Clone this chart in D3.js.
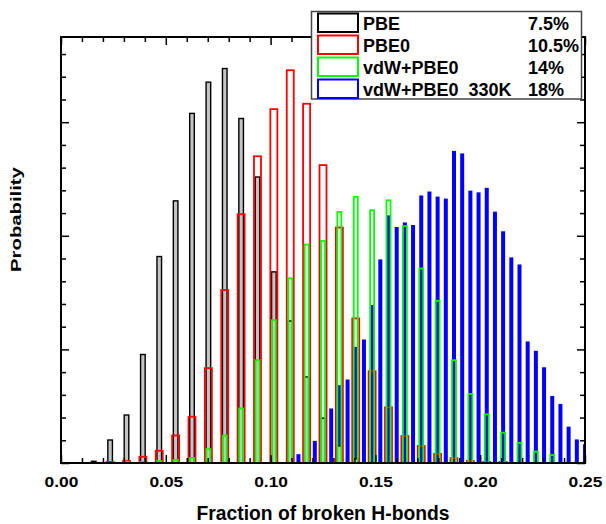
<!DOCTYPE html>
<html><head><meta charset="utf-8">
<script src="https://cdn.jsdelivr.net/npm/d3@7"></script>
<style>
html,body{margin:0;padding:0;background:#fff;}
text{font-family:"Liberation Sans",Arial,Helvetica,sans-serif;font-weight:bold;fill:#000;}
</style></head>
<body>
<svg id="chart" width="606" height="524"></svg>
<script>
// Histograms: bins are k/128 (PBE, PBE0, vdW+PBE0) and k/256 (330K run)
const pbeStart = 2;      // first bin index (k/128)
const pbeValues = [0.0006,0.0081,0.0169,0.0382,0.0727,0.0923,0.1231,0.1341,0.1389,0.1213,0.1007,0.0673,0.0500,0.0303,0.0158,0.0060,0.0015];
const pbe0Start = 3;
const pbe0Values = [0.0004,0.0007,0.0022,0.0043,0.0097,0.0163,0.0334,0.0609,0.0876,0.1080,0.1246,0.1383,0.1265,0.1049,0.0829,0.0509,0.0323,0.0196,0.0095,0.0060,0.0032,0.0017,0.0007,0.0004,0.0004];
const vdwStart = 4;
const vdwValues = [0.0004,0.0004,0.0007,0.0011,0.0018,0.0049,0.0097,0.0192,0.0362,0.0503,0.0650,0.0769,0.0782,0.0884,0.0937,0.0890,0.0925,0.0834,0.0685,0.0571,0.0362,0.0243,0.0171,0.0107,0.0071,0.0040,0.0028];
const hotStart = 28;     // first bin index (k/256)
const hotValues = [0.0014,0.0031,0.0073,0.0078,0.0141,0.0192,0.0274,0.0294,0.0409,0.0435,0.0556,0.0717,0.0872,0.0831,0.0847,0.0838,0.0942,0.0956,0.0938,0.0931,0.1099,0.1090,0.0959,0.0953,0.0969,0.0885,0.0816,0.0724,0.0699,0.0428,0.0395,0.0337,0.0236,0.0208,0.0128,0.0083,0.0066];
const xTickLabels = ["0.00","0.05","0.10","0.15","0.20","0.25"];
const legendLabels = ["PBE","PBE0","vdW+PBE0","vdW+PBE0  330K"];
const legendPct = ["7.5%","10.5%","14%","18%"];
const xLabel = "Fraction of broken H-bonds";
const yLabel = "Probability";

const svg = d3.select("#chart");
const L = 61, R = 585, T = 37, B = 463;
const x = d3.scaleLinear().domain([0, 0.25]).range([L, R]);
const y = d3.scaleLinear().domain([0, 0.15]).range([B, T]);

svg.append("defs").append("clipPath").attr("id","plotclip")
  .append("rect").attr("x",L).attr("y",T).attr("width",R-L).attr("height",B-T);

const bars = svg.append("g").attr("clip-path","url(#plotclip)");
function series(start, denom, vals){ return vals.map((v,i)=>({x:(start+i)/denom, v})); }

// blue filled (330K) at k/256
bars.append("g").selectAll("rect").data(series(hotStart,256,hotValues)).join("rect")
  .attr("x", d=>x(d.x)-2).attr("width",4)
  .attr("y", d=>y(d.v)).attr("height", d=>B-y(d.v))
  .attr("fill","#0000ff");
// black PBE
bars.append("g").selectAll("rect").data(series(pbeStart,128,pbeValues)).join("rect")
  .attr("x", d=>x(d.x)-2.3).attr("width",4.6)
  .attr("y", d=>y(d.v)).attr("height", d=>B-y(d.v))
  .attr("fill","#c4c4c4").attr("stroke","#000").attr("stroke-width",1.4);
// red PBE0 hollow
bars.append("g").selectAll("rect").data(series(pbe0Start,128,pbe0Values)).join("rect")
  .attr("x", d=>x(d.x)-3.5).attr("width",7)
  .attr("y", d=>y(d.v)).attr("height", d=>B-y(d.v))
  .attr("fill","none").attr("stroke","#ff0000").attr("stroke-width",1.8);
// green vdW+PBE0 hollow
bars.append("g").selectAll("rect").data(series(vdwStart,128,vdwValues)).join("rect")
  .attr("x", d=>x(d.x)-2).attr("width",4)
  .attr("y", d=>y(d.v)).attr("height", d=>B-y(d.v))
  .attr("fill","none").attr("stroke","#00ff00").attr("stroke-width",1.8);

// axes with inward ticks
const xMinor = d3.range(0, 26).map(i=>i/100).filter(v=>Math.round(v*100)%5!==0);
const xMajor = xTickLabels.map(Number);
const yMinor = d3.range(0, 19).map(i=>i*0.008).filter(v=>Math.round(v/0.008)%5!==0);
const yMajor = [0, 0.04, 0.08, 0.12];

function styleAxis(g){ g.select(".domain").remove(); g.selectAll("line").attr("stroke","#000").attr("stroke-width",1.5); }

svg.append("g").attr("transform",`translate(0,${B})`).call(d3.axisBottom(x).tickValues(xMinor).tickSize(-5).tickFormat("")).call(styleAxis);
const xb = svg.append("g").attr("transform",`translate(0,${B})`)
  .call(d3.axisBottom(x).tickValues(xMajor).tickSize(-8).tickPadding(13).tickFormat((d,i)=>xTickLabels[i])).call(styleAxis);
xb.selectAll("text").attr("font-size",15.5).attr("dy","0.71em").attr("transform","scale(1.12,1)")
  .style("font-family",'"Liberation Sans",Arial,sans-serif').style("font-weight","bold").attr("fill","#000");

svg.append("g").attr("transform",`translate(0,${T})`).call(d3.axisTop(x).tickValues(xMinor).tickSize(-5).tickFormat("")).call(styleAxis);
svg.append("g").attr("transform",`translate(0,${T})`).call(d3.axisTop(x).tickValues(xMajor).tickSize(-8).tickFormat("")).call(styleAxis);
svg.append("g").attr("transform",`translate(${L},0)`).call(d3.axisLeft(y).tickValues(yMinor).tickSize(-5).tickFormat("")).call(styleAxis);
svg.append("g").attr("transform",`translate(${L},0)`).call(d3.axisLeft(y).tickValues(yMajor).tickSize(-8).tickFormat("")).call(styleAxis);
svg.append("g").attr("transform",`translate(${R},0)`).call(d3.axisRight(y).tickValues(yMinor).tickSize(-5).tickFormat("")).call(styleAxis);
svg.append("g").attr("transform",`translate(${R},0)`).call(d3.axisRight(y).tickValues(yMajor).tickSize(-8).tickFormat("")).call(styleAxis);

svg.append("rect").attr("x",L).attr("y",T).attr("width",R-L).attr("height",B-T)
  .attr("fill","none").attr("stroke","#000").attr("stroke-width",2);

// axis titles
svg.append("g").attr("transform",`translate(${(L+R)/2},520)`)
  .append("text").attr("text-anchor","middle").attr("font-size",21).attr("transform","scale(0.92,1)").text(xLabel);
svg.append("g").attr("transform","translate(21,219.5)")
  .append("text").attr("text-anchor","middle").attr("font-size",20.3).attr("transform","scale(0.74,1) rotate(-90)").text(yLabel);

// legend
const colors = ["#000000","#ff0000","#00ff00","#0000ff"];
const lg = svg.append("g");
lg.append("rect").attr("x",311.5).attr("y",11.5).attr("width",270).attr("height",87.5)
  .attr("fill","#fff").attr("stroke","#444").attr("stroke-width",1.5);
legendLabels.forEach((lab,i)=>{
  const y0 = 13.5 + 22*i;
  lg.append("rect").attr("x",318).attr("y",y0).attr("width",40).attr("height",18.5)
    .attr("fill","#fff").attr("stroke",colors[i]).attr("stroke-width",2);
  lg.append("text").attr("x",363).attr("y",30+22*i).attr("font-size",18).style("white-space","pre").text(lab);
  lg.append("text").attr("x",528).attr("y",30+22*i).attr("font-size",18).text(legendPct[i]);
});
</script>
</body></html>
